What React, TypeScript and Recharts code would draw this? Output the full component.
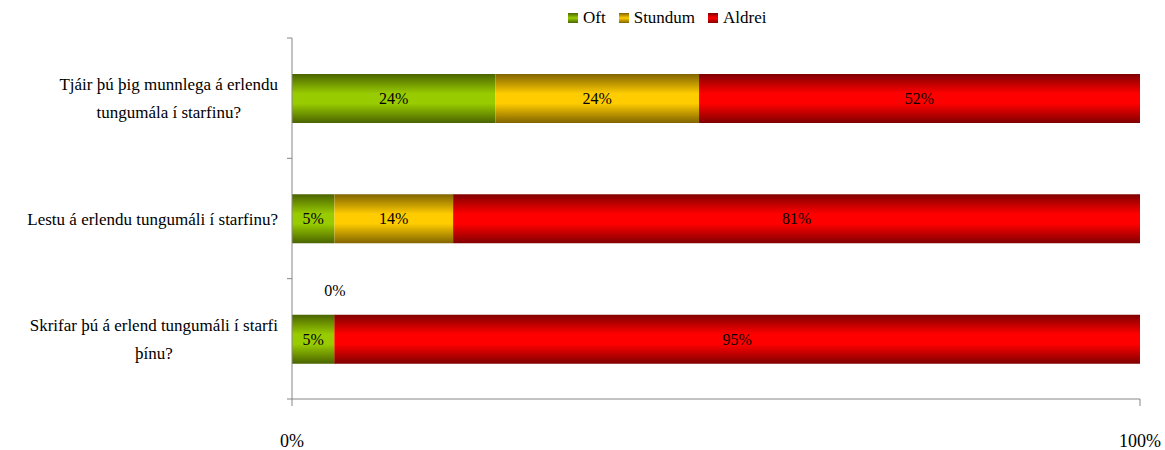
import React from "react";
import { BarChart, Bar, XAxis, YAxis, LabelList } from "recharts";

const categories = [
  "Tjáir þú þig munnlega á erlendu\ntungumála í starfinu?",
  "Lestu á erlendu tungumáli í starfinu?",
  "Skrifar þú á erlend tungumáli í starfi\nþínu?",
];
const oft = [24, 5, 5];
const stundum = [24, 14, 0];
const aldrei = [52, 81, 95];
const seriesNames = ["Oft", "Stundum", "Aldrei"];
const xTicks = [0, 100];

const W = 1165;
const H = 450;
const X_AXIS_H = 30;
const MARGIN = { top: 38, right: 25, bottom: 51 - X_AXIS_H, left: 0 };
const Y_AXIS_W = 292;
const AXIS_X = MARGIN.left + Y_AXIS_W;
const PLOT_H = H - MARGIN.top - MARGIN.bottom - X_AXIS_H;
const FONT = "'Liberation Serif', Tinos, 'Times New Roman', Times, 'DejaVu Serif', serif";
const LABEL_SIZE = 17;
const AXIS_COLOR = "#868686";

const data = categories.map((name, i) => ({
  name,
  oft: oft[i],
  stundum: stundum[i],
  aldrei: aldrei[i],
}));

const series = [
  { key: "oft", grad: "gOft", dark: "#4a6400", light: "#99cc00" },
  { key: "stundum", grad: "gStundum", dark: "#806400", light: "#ffcc00" },
  { key: "aldrei", grad: "gAldrei", dark: "#800000", light: "#ff0000" },
];

let ctx: CanvasRenderingContext2D | null = null;
function textWidth(s: string) {
  if (!ctx) ctx = document.createElement("canvas").getContext("2d");
  if (!ctx) return s.length * 7;
  ctx.font = `${LABEL_SIZE}px ${FONT}`;
  return ctx.measureText(s).width;
}

function CategoryTick(props: any) {
  const { y, payload, index } = props;
  const lines = String(payload.value).split("\n");
  const w = Math.max(...lines.map(textWidth));
  const cx = AXIS_X - 14 - w / 2;
  const lh = 28;
  const y0 = y - ((lines.length - 1) * lh) / 2;
  const half = PLOT_H / categories.length / 2;
  return (
    <g>
      <line x1={AXIS_X - 5} x2={AXIS_X} y1={y - half} y2={y - half} stroke={AXIS_COLOR} />
      {index === categories.length - 1 && (
        <line x1={AXIS_X - 5} x2={AXIS_X} y1={y + half} y2={y + half} stroke={AXIS_COLOR} />
      )}
      <text textAnchor="middle" dominantBaseline="central" fontSize={LABEL_SIZE} style={{ fontFamily: FONT }} fill="#000">
        {lines.map((l, i) => (
          <tspan key={i} x={cx} y={y0 + i * lh}>
            {l}
          </tspan>
        ))}
      </text>
    </g>
  );
}

function ValueLabel(props: any) {
  const { x, y, width, height, value } = props;
  if (value == null) return null;
  const cx = Number(x) + Number(width) / 2;
  const cy = value === 0 ? Number(y) - 24 : Number(y) + Number(height) / 2;
  return (
    <text x={cx} y={cy} textAnchor="middle" dominantBaseline="central" fontSize={16} style={{ fontFamily: FONT }} fill="#000">
      {value}%
    </text>
  );
}

function LegendBox() {
  return (
    <div
      style={{
        position: "absolute",
        left: 568,
        top: 8,
        display: "flex",
        alignItems: "center",
        fontFamily: FONT,
        fontSize: 17,
        color: "#000",
        whiteSpace: "nowrap",
      }}
    >
      {series.map((s, i) => (
        <div key={s.key} style={{ display: "flex", alignItems: "center", marginRight: 13 }}>
          <span
            style={{
              display: "inline-block",
              width: 10,
              height: 10,
              marginRight: 5,
              background: `linear-gradient(to bottom, ${s.dark}, ${s.light} 50%, ${s.dark})`,
            }}
          />
          <span>{seriesNames[i]}</span>
        </div>
      ))}
    </div>
  );
}

export default function App() {
  return (
    <div style={{ position: "absolute", left: 0, top: 0, width: W, height: H, background: "#fff" }}>
      <BarChart width={W} height={H} data={data} layout="vertical" margin={MARGIN} barSize={49}>
        <defs>
          {series.map((s) => (
            <linearGradient key={s.grad} id={s.grad} x1="0" y1="0" x2="0" y2="1">
              <stop offset="0%" stopColor={s.dark} />
              <stop offset="40%" stopColor={s.light} />
              <stop offset="60%" stopColor={s.light} />
              <stop offset="100%" stopColor={s.dark} />
            </linearGradient>
          ))}
        </defs>
        <XAxis
          type="number"
          domain={[0, 100]}
          ticks={xTicks}
          height={X_AXIS_H}
          tickFormatter={(v) => `${v}%`}
          stroke={AXIS_COLOR}
          tickSize={7}
          tickMargin={28}
          tick={{ fill: "#000", fontSize: 18, style: { fontFamily: FONT } }}
        />
        <YAxis
          type="category"
          dataKey="name"
          width={Y_AXIS_W}
          stroke={AXIS_COLOR}
          tickLine={false}
          tick={<CategoryTick />}
          interval={0}
        />
        {series.map((s) => (
          <Bar
            key={s.key}
            dataKey={s.key}
            stackId="a"
            fill={`url(#${s.grad})`}
            minPointSize={1}
            isAnimationActive={false}
          >
            <LabelList dataKey={s.key} content={<ValueLabel />} />
          </Bar>
        ))}
      </BarChart>
      <LegendBox />
    </div>
  );
}
